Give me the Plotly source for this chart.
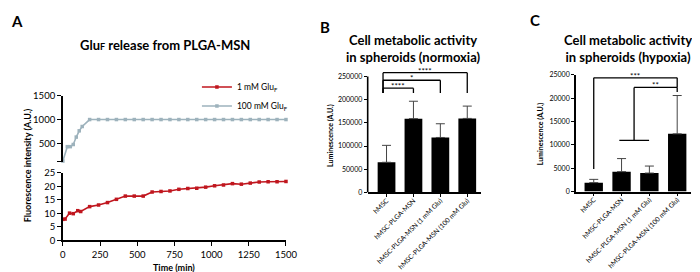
import plotly.graph_objects as go

# ---------------- Panel A data ----------------
time_1mM = [0, 15, 45, 70, 100, 120, 180, 240, 300, 360, 420, 480, 540, 600, 660,
            720, 780, 840, 900, 960, 1020, 1080, 1140, 1200, 1260, 1320, 1380, 1440, 1500]
fluor_1mM = [7.8, 7.9, 10.1, 9.9, 11.0, 10.7, 12.5, 13.1, 14.0, 15.2, 16.4, 16.4, 16.4, 17.9, 18.1,
             18.3, 18.9, 19.2, 19.3, 19.7, 20.2, 20.5, 21.0, 20.8, 21.2, 21.6, 21.7, 21.7, 21.8]
time_100mM = [0, 30, 50, 70, 90, 110, 130, 180, 240, 300, 360, 420, 480, 540, 600, 660,
              720, 780, 840, 900, 960, 1020, 1080, 1140, 1200, 1260, 1320, 1380, 1440, 1500]
fluor_100mM = [135, 435, 435, 480, 635, 765, 855, 1000, 1000, 1000, 1000, 1000, 1000, 1000, 1000, 1000,
               1000, 1000, 1000, 1000, 1000, 1000, 1000, 1000, 1000, 1000, 1000, 1000, 1000, 1000]
time_ticks = [0, 250, 500, 750, 1000, 1250, 1500]

# ---------------- Panels B / C data ----------------
categories = ["hMSC", "hMSC-PLGA-MSN", "hMSC-PLGA-MSN (1 mM Glu)", "hMSC-PLGA-MSN (100 mM Glu)"]
normoxia_mean = [65000, 159000, 118500, 159500]
normoxia_sd = [36500, 37500, 29500, 26500]
hypoxia_mean = [1900, 4250, 3950, 12350]
hypoxia_sd = [700, 2800, 1500, 8200]
no_minus = [0, 0, 0, 0]

# significance (normoxia): pair end index, label, bracket height
norm_sig_end = [1, 2, 3]
norm_sig_label = ["****", "*", "****"]
norm_sig_height = [224600, 241700, 258000]
norm_sig_base = 214000

FONT = "Lato"
RED = "#C0161E"
GREY = "#9DB2BC"

fig = go.Figure()

# Panel A traces
fig.add_trace(go.Scatter(x=time_1mM, y=fluor_1mM, xaxis="x", yaxis="y", mode="lines+markers",
                         name="1 mM Glu<sub>F</sub>", line=dict(color=RED, width=1.6),
                         marker=dict(symbol="square", size=3.5, color=RED), cliponaxis=False))
fig.add_trace(go.Scatter(x=time_100mM, y=fluor_100mM, xaxis="x", yaxis="y2", mode="lines+markers",
                         name="100 mM Glu<sub>F</sub>", line=dict(color=GREY, width=1.6),
                         marker=dict(symbol="square", size=3.5, color=GREY), cliponaxis=False))

# Panel B
fig.add_trace(go.Bar(x=categories, y=normoxia_mean, xaxis="x3", yaxis="y3", width=0.66,
                     marker=dict(color="black", line=dict(width=0)), showlegend=False,
                     error_y=dict(type="data", array=normoxia_sd, arrayminus=no_minus, symmetric=False,
                                  color="#444", thickness=1, width=4.5)))
# Panel C
fig.add_trace(go.Bar(x=categories, y=hypoxia_mean, xaxis="x4", yaxis="y4", width=0.66,
                     marker=dict(color="black", line=dict(width=0)), showlegend=False,
                     error_y=dict(type="data", array=hypoxia_sd, arrayminus=no_minus, symmetric=False,
                                  color="#444", thickness=1, width=4.5)))

W, H = 700, 272

def px(x):
    return x / W

def py(y):
    return 1 - y / H

axis_common = dict(showline=True, linecolor="black", linewidth=1.6, ticks="outside", ticklen=4,
                   tickwidth=1.3, tickcolor="black", showgrid=False, zeroline=False)
axis_small = {**axis_common, "ticklen": 3, "tickwidth": 1.1}

shapes = []
annotations = []

# Panel B brackets
left_b = -0.13
for end, lab, h in zip(norm_sig_end, norm_sig_label, norm_sig_height):
    for (x0, y0, x1, y1) in [(left_b, norm_sig_base, left_b, h), (left_b, h, end, h), (end, h, end, norm_sig_base)]:
        shapes.append(dict(type="line", xref="x3", yref="y3", x0=x0, y0=y0, x1=x1, y1=y1,
                           line=dict(color="black", width=1.3)))
    annotations.append(dict(x=(left_b + end) / 2, y=h, xref="x3", yref="y3", text=lab, showarrow=False,
                            yanchor="bottom", yshift=-5, font=dict(family=FONT, size=8, color="black")))
# Panel B y axis line (only up to 250000)
shapes.append(dict(type="line", xref="x3 domain", yref="y3", x0=0, x1=0, y0=0, y1=250000,
                   line=dict(color="black", width=1.6)))

# Panel C brackets
c_lines = [(0, 4800, 0, 24340), (0, 24340, 3, 24340), (3, 24340, 3, 22280),
           (1.45, 22280, 3, 22280), (3, 22280, 3, 21300), (1.45, 22280, 1.45, 10970),
           (0.92, 10970, 1.99, 10970)]
for (x0, y0, x1, y1) in c_lines:
    shapes.append(dict(type="line", xref="x4", yref="y4", x0=x0, y0=y0, x1=x1, y1=y1,
                       line=dict(color="black", width=1.3)))
annotations.append(dict(x=1.5, y=24340, xref="x4", yref="y4", text="***", showarrow=False,
                        yanchor="bottom", yshift=-5, font=dict(family=FONT, size=8, color="black")))
annotations.append(dict(x=2.22, y=22280, xref="x4", yref="y4", text="**", showarrow=False,
                        yanchor="bottom", yshift=-5, font=dict(family=FONT, size=8, color="black")))

# Titles & labels
def ann(text, x, y, size, bold=True, angle=0, xanchor="center"):
    t = f"<b>{text}</b>" if bold else text
    annotations.append(dict(text=t, x=px(x), y=py(y), xref="paper", yref="paper", showarrow=False,
                            xanchor=xanchor, yanchor="middle", textangle=angle,
                            font=dict(family=FONT, size=size, color="black")))

ann("A", 6, 7, 15)
ann("B", 321, 14, 15)
ann("C", 535, 6, 15)
ann("Glu<span style='font-size:9px'>F</span> release from PLGA-MSN", 157, 32, 13)
ann("Cell metabolic activity<br>in spheroids (normoxia)", 411, 36, 13)
ann("Cell metabolic activity<br>in spheroids (hypoxia)", 631, 36, 13)
ann("Fluorescence intensity (A.U.)", 17, 158, 9, angle=-90)
ann("Time (min)", 167, 264, 9)
ann("Luminescence (A.U.)", 327, 126, 7, angle=-90)
ann("Luminescence (A.U.)", 542, 125, 7, angle=-90)

fig.update_layout(
    width=W, height=H, margin=dict(l=0, r=0, t=0, b=0),
    paper_bgcolor="white", plot_bgcolor="white",
    font=dict(family=FONT, color="black"),
    showlegend=True,
    legend=dict(x=px(190), y=py(61), xanchor="left", yanchor="top", bgcolor="rgba(0,0,0,0)",
                font=dict(family=FONT, size=8.5, color="black"), itemwidth=30, tracegroupgap=0),
    bargap=0.3,
    # Panel A
    xaxis=dict(domain=[px(53), px(281)], range=[0, 1500], anchor="y", tickvals=time_ticks,
               tickfont=dict(size=9.5, family=FONT), **axis_common),
    yaxis=dict(domain=[py(236), py(165.5)], range=[0, 25], anchor="x", dtick=5,
               tickfont=dict(size=9.5, family=FONT), **axis_common),
    yaxis2=dict(domain=[py(154), py(85)], range=[120, 1500], anchor="x",
                tickvals=[120, 500, 1000, 1500], ticktext=["", "500", "1000", "1500"],
                tickfont=dict(size=9.5, family=FONT), **axis_common),
    # Panel B
    xaxis3=dict(domain=[px(364.5), px(480)], range=[-0.7, 3.5], anchor="y3", type="category",
                tickangle=-45, tickfont=dict(size=6.7, family=FONT), ticklabelstandoff=-3,
                **axis_small),
    yaxis3=dict(domain=[py(186), py(58)], range=[0, 264500], anchor="x3",
                tickvals=[0, 50000, 100000, 150000, 200000, 250000], tickformat="d",
                tickfont=dict(size=7, family=FONT),
                **{**axis_small, "showline": False}),
    # Panel C
    xaxis4=dict(domain=[px(577.3), px(695)], range=[-0.64, 3.5], anchor="y4", type="category",
                tickangle=-45, tickfont=dict(size=6.7, family=FONT), ticklabelstandoff=-3,
                **axis_small),
    yaxis4=dict(domain=[py(185), py(63.3)], range=[0, 25000], anchor="x4",
                tickvals=[0, 5000, 10000, 15000, 20000, 25000], tickformat="d",
                tickfont=dict(size=7, family=FONT), **axis_small),
    shapes=shapes,
    annotations=annotations,
)

fig.write_html("out.html")
